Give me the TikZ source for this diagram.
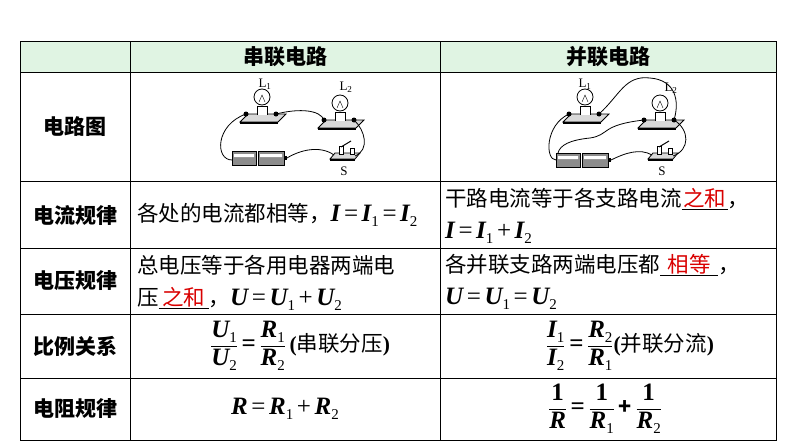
\documentclass[tikz,border=0pt]{standalone}
\usepackage{fontspec}
\newfontfamily\cjk{Noto Sans CJK SC}
\newfontfamily\tms{Liberation Serif}
\newcommand{\vb}[1]{{\tms\bfseries\itshape\fontsize{25}{25}\selectfont #1}}
\newcommand{\eqs}[1]{\,{\tms\fontsize{25}{25}\selectfont #1}\,}
\newcommand{\sbs}[1]{\raisebox{-5pt}{\tms\fontsize{15}{15}\selectfont #1}}
\newcommand{\fr}[2]{$\displaystyle\frac{\hbox{#1}}{\hbox{#2}}$}
\tikzset{
 cell/.style={font=\cjk\fontsize{21.5}{24}\selectfont, inner sep=0pt},
 hd/.style={font=\cjk\bfseries\fontsize{21}{24}\selectfont, inner sep=0pt},
 wire/.style={line width=0.8pt},
 base/.style={fill=black!15, draw, line width=0.8pt},
 lab/.style={font=\tms\fontsize{13}{13}\selectfont, inner sep=0pt}
}
\newcommand{\lamp}[2]{% base left x, y
 \begin{scope}[shift={(#1,#2)}]
  \draw[base] (0,10) -- (8,2) -- (46,2) -- (38,10) -- cycle;
  \fill (0,10) rectangle (38,12);
  \fill (6,2) circle (2.5) (36,2) circle (2.5);
  \draw[fill=white,line width=0.7pt] (17,3) -- (17,-6) -- (27,-6) -- (27,3);
  \draw[fill=white,line width=0.8pt] (22,-15) circle (8);
  \draw (19,-10) -- (22,-17) -- (25,-10);
 \end{scope}}
\newcommand{\batt}[2]{%
 \begin{scope}[shift={(#1,#2)}]
  \draw[fill=black!45,line width=0.8pt] (0,0) rectangle (24,14);
  \draw[fill=black!45,line width=0.8pt] (26,0) rectangle (52,14);
  \fill[white] (2,3) rectangle (22,6) (28,3) rectangle (50,6);
  \fill (52,5) rectangle (55,9);
 \end{scope}}
\newcommand{\switch}[2]{%
 \begin{scope}[shift={(#1,#2)}]
  \draw[base] (0,6) -- (5,0) -- (30,0) -- (25,6) -- cycle;
  \fill (0,6) rectangle (25,8);
  \draw[fill=white] (9,1) rectangle (13,-7);
  \draw[fill=white] (20,1) rectangle (24,-5);
  \draw[line width=1pt] (11,-6) -- (21,-12);
 \end{scope}}
\begin{document}
\begin{tikzpicture}[x=1pt,y=-1pt]
\useasboundingbox (0,0) rectangle (794,447);
\fill[white] (0,0) rectangle (794,447);
\fill[cyan!10!green!12!white] (20,41) rectangle (776,72);
\draw[line width=0.9pt] (20,41) rectangle (776,440);
\foreach \y in {72,181,248,314,378} \draw[line width=0.9pt] (20,\y) -- (776,\y);
\foreach \x in {130,440} \draw[line width=0.9pt] (\x,41) -- (\x,440);
% header
\node[hd] (h1) at (285,57) {串联电路};
\node[hd] (h2) at (608,57) {并联电路};
% left column
\node[hd] (r1) at (75,127) {电路图};
\node[hd] (r2) at (75,215) {电流规律};
\node[hd] (r3) at (75,281) {电压规律};
\node[hd] (r4) at (75,346) {比例关系};
\node[hd] (r5) at (75,409) {电阻规律};
% series circuit
\lamp{240}{112}
\lamp{318}{118}
\batt{232}{151}
\switch{330}{153}
\node[lab] (l1) at (265,84) {L\textsubscript{1}};
\node[lab] (l2) at (346,87) {L\textsubscript{2}};
\node[lab] (s1) at (344,171) {S};
\draw[wire] (246,114) .. controls (215,125) and (215,160) .. (232,160);
\draw[wire] (276,114) .. controls (300,108) and (320,110) .. (324,120);
\draw[wire] (354,120) .. controls (365,130) and (370,150) .. (355,156);
\draw[wire] (287,158) .. controls (300,150) and (320,145) .. (334,155);
% parallel circuit
\lamp{563}{112}
\lamp{638}{118}
\batt{556}{153}
\switch{648}{153}
\node[lab] (l3) at (585,84) {L\textsubscript{1}};
\node[lab] (l4) at (671,88) {L\textsubscript{2}};
\node[lab] (s2) at (662,171) {S};
\draw[wire] (569,114) .. controls (545,125) and (545,160) .. (556,160);
\draw[wire] (599,114) .. controls (620,95) and (625,75) .. (650,78) .. controls (675,80) and (680,100) .. (674,120);
\draw[wire] (674,120) .. controls (690,130) and (690,150) .. (673,156);
\draw[wire] (644,120) .. controls (600,125) and (610,135) .. (590,138) .. controls (570,140) and (560,145) .. (558,153);
\draw[wire] (611,160) .. controls (625,153) and (640,148) .. (652,155);
% row 2
\node[cell,anchor=west] (c21) at (137,215) {各处的电流都相等，\vb{I}\eqs{=}\vb{I}\sbs{1}\eqs{=}\vb{I}\sbs{2}};
\node[cell,anchor=west] (c22) at (445,199) {干路电流等于各支路电流\underline{\makebox[46pt]{\textcolor{red!85!black}{之和}}}，};
\node[cell,anchor=west] (c23) at (445,233) {\vb{I}\eqs{=}\vb{I}\sbs{1}\eqs{+}\vb{I}\sbs{2}};
% row 3
\node[cell,anchor=west] (c31) at (137,265) {总电压等于各用电器两端电};
\node[cell,anchor=west] (c32) at (137,299) {压\underline{\makebox[50pt]{\textcolor{red!85!black}{之和}}}，\vb{U}\eqs{=}\vb{U}\sbs{1}\eqs{+}\vb{U}\sbs{2}};
\node[cell,anchor=west] (c33) at (445,265) {各并联支路两端电压都\underline{\makebox[58pt]{\textcolor{red!85!black}{相等}}}，};
\node[cell,anchor=west] (c34) at (445,299) {\vb{U}\eqs{=}\vb{U}\sbs{1}\eqs{=}\vb{U}\sbs{2}};
% row 4
\node[cell] (c41) at (300,346) {\fr{\vb{U}\sbs{1}}{\vb{U}\sbs{2}}\,{\tms\bfseries\fontsize{25}{25}\selectfont =}\,\fr{\vb{R}\sbs{1}}{\vb{R}\sbs{2}}\,{\tms\bfseries(}串联分压{\tms\bfseries)}};
\node[cell] (c42) at (630,346) {\fr{\vb{I}\sbs{1}}{\vb{I}\sbs{2}}\,{\tms\bfseries\fontsize{25}{25}\selectfont =}\,\fr{\vb{R}\sbs{2}}{\vb{R}\sbs{1}}{\tms\bfseries(}并联分流{\tms\bfseries)}};
% row 5
\node[cell] (c51) at (285,409) {\vb{R}\eqs{=}\vb{R}\sbs{1}\eqs{+}\vb{R}\sbs{2}};
\node[cell] (c52) at (605,409) {\fr{\vb{\upshape 1}}{\vb{R}}\,{\tms\bfseries\fontsize{25}{25}\selectfont =}\,\fr{\vb{\upshape 1}}{\vb{R}\sbs{1}}\,\textbf{+}\,\fr{\vb{\upshape 1}}{\vb{R}\sbs{2}}};
\end{tikzpicture}
\end{document}
